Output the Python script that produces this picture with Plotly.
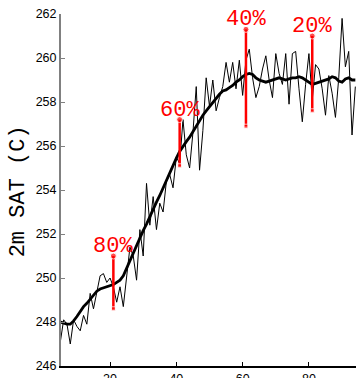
import plotly.graph_objects as go

years = list(range(5, 95))
sat_annual = [
    247.1, 248.1, 247.9, 247.0, 248.1, 247.8, 247.6, 248.3, 247.9, 249.3,
    248.6, 249.3, 250.1, 250.2, 249.8, 250.0, 249.6, 248.9, 249.6, 248.7,
    250.2, 251.4, 251.0, 249.9, 252.2, 251.0, 254.3, 252.4, 253.7, 252.2,
    253.4, 253.0, 254.4, 254.7, 254.1, 255.5, 255.2, 257.2, 255.6, 255.0,
    256.6, 258.7, 254.9, 256.7, 259.1, 257.8, 259.0, 257.6, 258.2, 258.7,
    259.8, 258.9, 259.8, 258.6, 259.9, 258.3, 259.9, 260.4, 259.1, 258.2,
    258.7, 259.5, 260.1, 259.0, 258.2, 260.2, 259.3, 258.8, 260.2, 257.9,
    260.2, 260.3, 258.6, 257.1, 258.8, 260.2, 258.1, 259.7, 259.5, 258.6,
    257.4, 259.2, 258.4, 257.3, 259.1, 261.8, 259.6, 260.3, 256.5, 258.7,
]
sat_smooth = [
    248.0, 247.95, 247.9, 247.9, 248.05, 248.25, 248.5, 248.7, 248.85, 249.05,
    249.25, 249.4, 249.5, 249.55, 249.6, 249.65, 249.7, 249.8, 249.9, 250.1,
    250.45, 250.8, 251.15, 251.5, 251.8, 252.15, 252.45, 252.8, 253.1, 253.45,
    253.75, 254.1, 254.4, 254.75, 255.1, 255.45, 255.75, 256.0, 256.2, 256.4,
    256.65, 256.95, 257.2, 257.4, 257.6, 257.8, 258.0, 258.2, 258.35, 258.5,
    258.55, 258.65, 258.75, 258.9, 259.0, 259.15, 259.25, 259.3, 259.25, 259.1,
    259.0, 258.95, 258.9, 258.95, 259.0, 259.05, 259.1, 259.05, 259.0, 259.05,
    259.1, 259.1, 259.15, 259.1, 259.0, 258.9, 258.8, 258.85, 258.9, 258.95,
    259.0, 259.05, 259.15, 259.1, 258.95, 258.9, 259.05, 259.1, 259.0, 259.0,
]
bar_years = [21, 41, 61, 81]
bar_low = [248.6, 255.1, 256.9, 257.6]
bar_high = [251.0, 257.2, 261.3, 261.0]
bar_labels = ["80%", "60%", "40%", "20%"]
x_ticks = [20, 40, 60, 80]
y_ticks = [246, 248, 250, 252, 254, 256, 258, 260, 262]

RED = "#ff0000"
fig = go.Figure()
fig.add_trace(go.Scatter(x=years, y=sat_annual, mode="lines",
                         line=dict(color="black", width=1), showlegend=False))
fig.add_trace(go.Scatter(x=years, y=sat_smooth, mode="lines",
                         line=dict(color="black", width=2.8), showlegend=False))
for xb, lo, hi, lab in zip(bar_years, bar_low, bar_high, bar_labels):
    fig.add_trace(go.Scatter(x=[xb, xb], y=[lo, hi], mode="lines+markers",
                             line=dict(color=RED, width=2.5),
                             marker=dict(color=RED, size=[4, 6], symbol=["square", "circle"]),
                             showlegend=False))
    fig.add_annotation(x=xb, y=hi, text=lab, showarrow=False, xanchor="center",
                       yanchor="bottom", yshift=-5,
                       font=dict(family="Liberation Mono", size=22, color=RED))

fig.add_annotation(xref="paper", yref="paper", x=-0.146, y=0.496, text="2m SAT (C)",
                   textangle=-90, showarrow=False, xanchor="center", yanchor="middle",
                   font=dict(family="Liberation Mono", size=22, color="black"))

fig.update_layout(
    width=356, height=378,
    margin=dict(l=61, r=0, t=14, b=12, autoexpand=False),
    paper_bgcolor="white", plot_bgcolor="white",
    xaxis=dict(range=[5.2, 94.2], tickvals=x_ticks, ticks="inside", ticklen=4,
               tickcolor="black", showline=True, linecolor="black", linewidth=1.5,
               showgrid=False, zeroline=False, automargin=False,
               tickfont=dict(family="Liberation Sans", size=12.5, color="black")),
    yaxis=dict(range=[246, 262], tickvals=y_ticks, ticks="inside", ticklen=4,
               tickcolor="#808080", showline=True, linecolor="#808080", linewidth=2,
               showgrid=False, zeroline=False, automargin=False,
               tickfont=dict(family="Liberation Sans", size=12.5, color="black")),
)
fig.write_html("out.html", config={"displayModeBar": False},
               post_script="document.body.style.margin='0';document.body.style.padding='0';")
